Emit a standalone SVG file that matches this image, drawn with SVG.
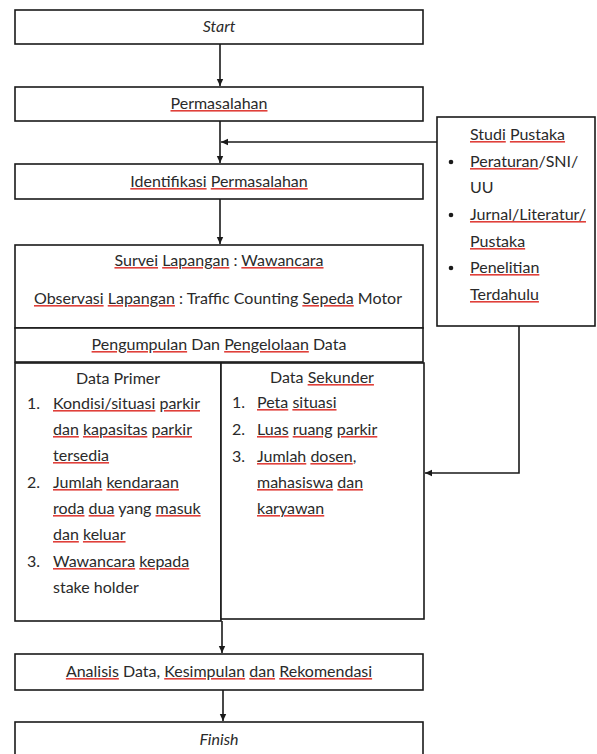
<svg xmlns="http://www.w3.org/2000/svg" width="597" height="754" viewBox="0 0 597 754">
<defs>
<marker id="ah" markerWidth="8" markerHeight="8" refX="7" refY="4" orient="auto" markerUnits="userSpaceOnUse">
<path d="M0,0.8 L7,4 L0,7.2 Z" fill="#1a1a1a"/>
</marker>
<style>
.box{fill:#fff;stroke:#1a1a1a;stroke-width:1.6}
.t{font-family:Lato,"Liberation Sans",sans-serif;font-size:16px;fill:#2a2a2a}
.c{text-anchor:middle}
.i{font-style:italic}
.u{text-decoration:underline;fill:#e0403a}
.w{fill:#2a2a2a}
.ln{stroke:#1a1a1a;stroke-width:1.6;fill:none}
</style>
</defs>
<rect width="597" height="754" fill="#fff"/>
<g id="connectors">
<path class="ln" d="M220,44 V86" marker-end="url(#ah)"/>
<path class="ln" d="M220,121 V163" marker-end="url(#ah)"/>
<path class="ln" d="M437,142 H221" marker-end="url(#ah)"/>
<path class="ln" d="M220,199 V244" marker-end="url(#ah)"/>
<path class="ln" d="M519,326 V473 H425" marker-end="url(#ah)"/>
<path class="ln" d="M222,621 V653" marker-end="url(#ah)"/>
<path class="ln" d="M223,690 V721" marker-end="url(#ah)"/>
</g>
<g id="start">
<rect class="box" x="15" y="10" width="408" height="34"/>
<text class="t c i" x="219" y="32">Start</text>
</g>
<g id="permasalahan">
<rect class="box" x="15" y="87" width="408" height="34"/>
<text class="t c" x="219" y="109"><tspan class="u"><tspan class="w">Permasalahan</tspan></tspan></text>
</g>
<g id="identifikasi">
<rect class="box" x="15" y="164" width="408" height="35"/>
<text class="t c" x="219" y="187"><tspan class="u"><tspan class="w">Identifikasi</tspan></tspan> <tspan class="u"><tspan class="w">Permasalahan</tspan></tspan></text>
</g>
<g id="studi-pustaka">
<rect class="box" x="437" y="117" width="158" height="209"/>
<text class="t" x="470" y="140"><tspan class="u"><tspan class="w">Studi</tspan></tspan> <tspan class="u"><tspan class="w">Pustaka</tspan></tspan></text>
<circle cx="451" cy="162" r="2.3" fill="#1a1a1a"/>
<text class="t" x="470" y="167"><tspan class="u"><tspan class="w">Peraturan</tspan></tspan>/SNI/</text>
<text class="t" x="470" y="193">UU</text>
<circle cx="451" cy="215" r="2.3" fill="#1a1a1a"/>
<text class="t" x="470" y="220"><tspan class="u"><tspan class="w">Jurnal/Literatur/</tspan></tspan></text>
<text class="t" x="470" y="247"><tspan class="u"><tspan class="w">Pustaka</tspan></tspan></text>
<circle cx="451" cy="268" r="2.3" fill="#1a1a1a"/>
<text class="t" x="470" y="273"><tspan class="u"><tspan class="w">Penelitian</tspan></tspan></text>
<text class="t" x="470" y="300"><tspan class="u"><tspan class="w">Terdahulu</tspan></tspan></text>
</g>
<g id="survei">
<rect class="box" x="15" y="245" width="408" height="83"/>
<text class="t c" x="219" y="266"><tspan class="u"><tspan class="w">Survei</tspan></tspan> <tspan class="u"><tspan class="w">Lapangan</tspan></tspan> : <tspan class="u"><tspan class="w">Wawancara</tspan></tspan></text>
<text class="t c" x="218" y="304"><tspan class="u"><tspan class="w">Observasi</tspan></tspan> <tspan class="u"><tspan class="w">Lapangan</tspan></tspan> : Traffic Counting <tspan class="u"><tspan class="w">Sepeda</tspan></tspan> Motor</text>
</g>
<g id="pengumpulan">
<rect class="box" x="15" y="328" width="408" height="34"/>
<text class="t c" x="219" y="350"><tspan class="u"><tspan class="w">Pengumpulan</tspan></tspan> Dan <tspan class="u"><tspan class="w">Pengelolaan</tspan></tspan> Data</text>
</g>
<g id="data-primer">
<rect class="box" x="15" y="363" width="206" height="258"/>
<text class="t c" x="118" y="384">Data Primer</text>
<text class="t" x="27" y="409">1.</text>
<text class="t" x="53" y="409"><tspan class="u"><tspan class="w">Kondisi/situasi</tspan></tspan> <tspan class="u"><tspan class="w">parkir</tspan></tspan></text>
<text class="t" x="53" y="435"><tspan class="u"><tspan class="w">dan</tspan></tspan> <tspan class="u"><tspan class="w">kapasitas</tspan></tspan> <tspan class="u"><tspan class="w">parkir</tspan></tspan></text>
<text class="t" x="53" y="461"><tspan class="u"><tspan class="w">tersedia</tspan></tspan></text>
<text class="t" x="27" y="488">2.</text>
<text class="t" x="53" y="488"><tspan class="u"><tspan class="w">Jumlah</tspan></tspan> <tspan class="u"><tspan class="w">kendaraan</tspan></tspan></text>
<text class="t" x="53" y="514"><tspan class="u"><tspan class="w">roda</tspan></tspan> <tspan class="u"><tspan class="w">dua</tspan></tspan> yang <tspan class="u"><tspan class="w">masuk</tspan></tspan></text>
<text class="t" x="53" y="540"><tspan class="u"><tspan class="w">dan</tspan></tspan> <tspan class="u"><tspan class="w">keluar</tspan></tspan></text>
<text class="t" x="27" y="567">3.</text>
<text class="t" x="53" y="567"><tspan class="u"><tspan class="w">Wawancara</tspan></tspan> <tspan class="u"><tspan class="w">kepada</tspan></tspan></text>
<text class="t" x="53" y="593">stake holder</text>
</g>
<g id="data-sekunder">
<rect class="box" x="221" y="363" width="203" height="256"/>
<text class="t c" x="322" y="383">Data <tspan class="u"><tspan class="w">Sekunder</tspan></tspan></text>
<text class="t" x="232" y="408">1.</text>
<text class="t" x="257" y="408"><tspan class="u"><tspan class="w">Peta</tspan></tspan> <tspan class="u"><tspan class="w">situasi</tspan></tspan></text>
<text class="t" x="232" y="435">2.</text>
<text class="t" x="257" y="435"><tspan class="u"><tspan class="w">Luas</tspan></tspan> <tspan class="u"><tspan class="w">ruang</tspan></tspan> <tspan class="u"><tspan class="w">parkir</tspan></tspan></text>
<text class="t" x="232" y="462">3.</text>
<text class="t" x="257" y="462"><tspan class="u"><tspan class="w">Jumlah</tspan></tspan> <tspan class="u"><tspan class="w">dosen</tspan></tspan>,</text>
<text class="t" x="257" y="488"><tspan class="u"><tspan class="w">mahasiswa</tspan></tspan> <tspan class="u"><tspan class="w">dan</tspan></tspan></text>
<text class="t" x="257" y="514"><tspan class="u"><tspan class="w">karyawan</tspan></tspan></text>
</g>
<g id="analisis">
<rect class="box" x="15" y="654" width="408" height="36"/>
<text class="t c" x="219" y="677"><tspan class="u"><tspan class="w">Analisis</tspan></tspan> Data, <tspan class="u"><tspan class="w">Kesimpulan</tspan></tspan> <tspan class="u"><tspan class="w">dan</tspan></tspan> <tspan class="u"><tspan class="w">Rekomendasi</tspan></tspan></text>
</g>
<g id="finish">
<rect class="box" x="15" y="722" width="408" height="40"/>
<text class="t c i" x="219" y="745">Finish</text>
</g>
</svg>
